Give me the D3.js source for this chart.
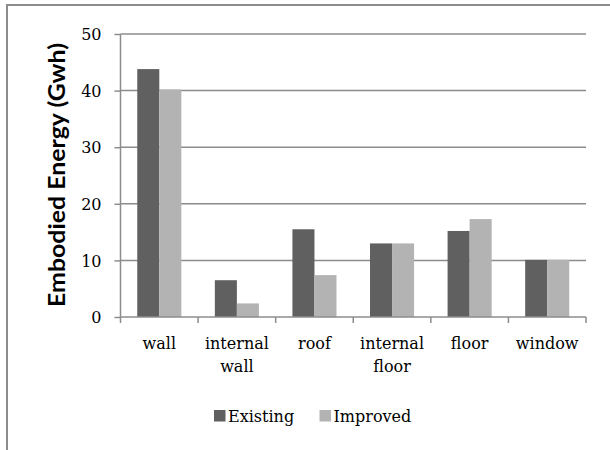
<!DOCTYPE html>
<html>
<head>
<meta charset="utf-8">
<script src="https://cdn.jsdelivr.net/npm/d3@7"></script>
<style>
  html, body { margin: 0; padding: 0; background: #fff; }
  svg { display: block; }
</style>
</head>
<body>
<svg id="chart" width="610" height="450"></svg>
<script>
const categories = [["wall"], ["internal", "wall"], ["roof"], ["internal", "floor"], ["floor"], ["window"]];
const seriesNames = ["Existing", "Improved"];
const existing = [43.8, 6.5, 15.5, 13.0, 15.2, 10.1];
const improved = [40.2, 2.4, 7.4, 13.0, 17.3, 10.1];
const yTicks = [0, 10, 20, 30, 40, 50];
const yTitle = "Embodied Energy (Gwh)";

(function () {
const colors = { Existing: "#606060", Improved: "#b3b3b3" };
const gridColor = "#8c8c8c";
const sx = 1.17; // horizontal stretch of the reference's rotated title
const serif = "DejaVu Serif, Liberation Serif, serif";
const fs = 16;

const svg = d3.select("#chart");

// outer frame (cropped: top and left edges visible)
svg.append("path")
  .attr("d", "M7,450 L7,5 L610,5")
  .attr("fill", "none").attr("stroke", gridColor).attr("stroke-width", 2);

const pLeft = 120.5, pRight = 586, pTop = 34, pBottom = 317;
const keys = categories.map(c => c.join(" "));
const x = d3.scaleBand().domain(keys).range([pLeft, pRight]).padding(0);
const xs = d3.scaleBand().domain(seriesNames).range([0, x.bandwidth()]).paddingInner(0).paddingOuter(0.76);
const y = d3.scaleLinear().domain([0, 50]).range([pBottom, pTop]);

// gridlines
svg.append("g").selectAll("line").data(yTicks.filter(t => t > 0)).join("line")
  .attr("x1", pLeft).attr("x2", pRight)
  .attr("y1", d => y(d)).attr("y2", d => y(d))
  .attr("stroke", gridColor).attr("stroke-width", 1.5);

// y axis
const yAxis = svg.append("g").attr("transform", `translate(${pLeft},0)`)
  .call(d3.axisLeft(y).tickValues(yTicks).tickSize(6).tickPadding(0).tickFormat(d3.format("d")));
yAxis.attr("font-family", null).attr("font-size", null);
yAxis.select(".domain").attr("stroke", gridColor).attr("stroke-width", 1.5).attr("d", `M0,${pBottom}V${pTop}`);
yAxis.selectAll(".tick line").attr("stroke", gridColor).attr("stroke-width", 1.5);
yAxis.selectAll(".tick text").remove();
yAxis.selectAll(".tick").append("text")
  .attr("x", -19)
  .attr("dy", "0.36em")
  .attr("text-anchor", "end")
  .attr("fill", "#000")
  .attr("font-family", serif)
  .attr("font-size", fs)
  .text(d => d);

// bars
const data = keys.map((k, i) => ({ key: k, values: [existing[i], improved[i]] }));
const groups = svg.append("g").selectAll("g").data(data).join("g")
  .attr("transform", d => `translate(${x(d.key)},0)`);
groups.selectAll("rect").data(d => d.values.map((v, j) => ({ s: seriesNames[j], v }))).join("rect")
  .attr("x", d => xs(d.s))
  .attr("width", xs.bandwidth())
  .attr("y", d => y(d.v))
  .attr("height", d => y(0) - y(d.v))
  .attr("fill", d => colors[d.s]);

// x axis
const xAxisG = svg.append("g").attr("transform", `translate(0,${pBottom})`);
xAxisG.append("line").attr("x1", pLeft).attr("x2", pRight).attr("y1", 0).attr("y2", 0)
  .attr("stroke", gridColor).attr("stroke-width", 1.5);
const boundaries = keys.map(k => x(k)).concat([pRight]);
xAxisG.selectAll("line.tk").data(boundaries).join("line").attr("class", "tk")
  .attr("x1", d => d).attr("x2", d => d).attr("y1", 0).attr("y2", 6)
  .attr("stroke", gridColor).attr("stroke-width", 1.5);

// category labels
const labels = svg.append("g").selectAll("text").data(categories).join("text")
  .attr("transform", (d, i) => `translate(${x(keys[i]) + x.bandwidth() / 2},349)`)
  .attr("text-anchor", "middle")
  .attr("fill", "#000")
  .attr("font-family", serif)
  .attr("font-size", fs);
labels.selectAll("tspan").data(d => d).join("tspan")
  .attr("x", 0).attr("dy", (d, j) => j === 0 ? 0 : 23).text(d => d);

// y title
svg.append("text")
  .attr("transform", `translate(65,175) scale(${sx},1) rotate(-90)`)
  .attr("text-anchor", "middle")
  .attr("fill", "#000")
  .attr("textLength", 264).attr("lengthAdjust", "spacingAndGlyphs")
  .attr("font-family", "Lato, Open Sans, sans-serif")
  .attr("font-weight", "bold")
  .attr("font-size", 20)
  .text(yTitle);

// legend
const legendPos = { Existing: 214, Improved: 319.5 };
const leg = svg.append("g").selectAll("g").data(seriesNames).join("g")
  .attr("transform", d => `translate(${legendPos[d]},0)`);
leg.append("rect").attr("x", 0).attr("y", 410).attr("width", 11.5).attr("height", 11.5)
  .attr("fill", d => colors[d]);
leg.append("text")
  .attr("x", 14).attr("y", 421.5)
  .attr("fill", "#000")
  .attr("font-family", serif)
  .attr("font-size", fs)
  .text(d => d);
})();
</script>
</body>
</html>
